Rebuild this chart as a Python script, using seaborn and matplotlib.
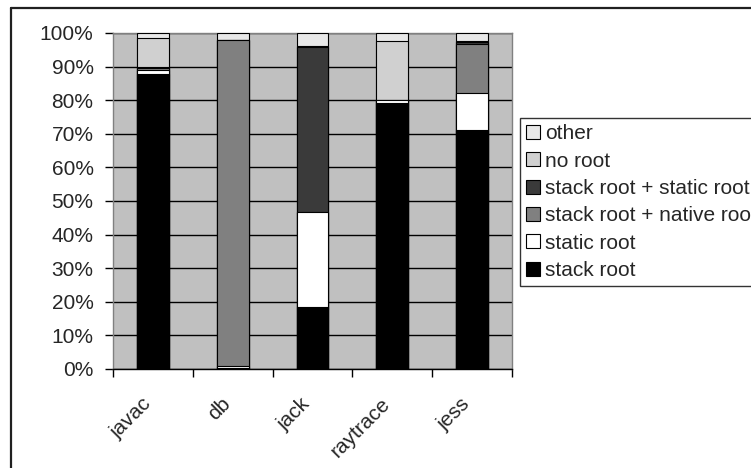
import numpy as np
import pandas as pd
import matplotlib
matplotlib.use("Agg")
import matplotlib.pyplot as plt
import matplotlib.transforms as mtransforms
from matplotlib.lines import Line2D
from matplotlib.patches import Patch
import seaborn as sns

# values (percent of objects)
benchmarks = ["javac", "db", "jack", "raytrace", "jess"]
stack_root = [87.8, 0.3, 18.5, 79.2, 71.1]
static_root = [1.3, 0.6, 28.3, 0.9, 11.1]
stack_native = [0.4, 97.1, 0.0, 0.0, 14.5]
stack_static = [0.3, 0.0, 49.0, 0.0, 0.6]
no_root = [8.8, 0.0, 0.4, 17.5, 0.3]
other = [1.4, 2.0, 3.8, 2.4, 2.4]

series_names = ["stack root", "static root", "stack root + native root",
                "stack root + static root", "no root", "other"]
series_colors = ["#000000", "#ffffff", "#808080", "#3a3a3a", "#d0d0d0", "#e8e8e8"]

df = pd.DataFrame(
    [stack_root, static_root, stack_native, stack_static, no_root, other],
    index=series_names, columns=benchmarks,
)
cum = df.cumsum(axis=0)

sns.set_style("white")
plt.rcParams["font.family"] = ["Liberation Sans", "DejaVu Sans"]

fig = plt.figure(figsize=(7.51, 4.68), dpi=100)
ax = fig.add_axes([113 / 751, 1 - 369 / 468, (512 - 113) / 751, (369 - 33) / 468])
ax.set_facecolor("#c0c0c0")

# draw cumulative layers from the top series down so each one shows its own slice
for name, color in reversed(list(zip(series_names, series_colors))):
    layer = pd.DataFrame({"bench": benchmarks, "value": cum.loc[name].values})
    sns.barplot(data=layer, x="bench", y="value", color=color, width=0.4,
                edgecolor="black", linewidth=0.8, saturation=1, ax=ax, zorder=3)

ax.set_xlim(-0.5, len(benchmarks) - 0.5)
ax.set_ylim(0, 100)
ax.set_yticks(np.arange(0, 101, 10))
ax.set_yticklabels([f"{v}%" for v in range(0, 101, 10)])
ax.yaxis.grid(True, color="black", linewidth=1)
ax.set_axisbelow(True)
ax.set_xlabel("")
ax.set_ylabel("")

ax.set_xticks(np.arange(-0.5, len(benchmarks)), minor=True)
ax.tick_params(axis="x", which="major", length=0, pad=23, labelsize=15)
ax.tick_params(axis="x", which="minor", length=6, width=1, color="black", direction="out", bottom=True)
ax.tick_params(axis="y", length=6, width=1, color="black", direction="out", left=True, pad=8, labelsize=15)
shift = mtransforms.ScaledTranslation(-5 / 100, 0, fig.dpi_scale_trans)
for lbl in ax.get_xticklabels():
    lbl.set_rotation(45)
    lbl.set_ha("right")
    lbl.set_va("center")
    lbl.set_rotation_mode("anchor")
    lbl.set_transform(lbl.get_transform() + shift)

for side in ["top", "right", "left"]:
    ax.spines[side].set_color("#808080")
    ax.spines[side].set_linewidth(1)
ax.spines["bottom"].set_color("black")
ax.spines["bottom"].set_linewidth(1)

handles = [Patch(facecolor=c, edgecolor="black", linewidth=0.8, label=n)
           for n, c in zip(series_names, series_colors)][::-1]
leg = fig.legend(handles=handles, loc="upper left",
                 bbox_to_anchor=(520 / 751, 1 - 118 / 468), bbox_transform=fig.transFigure,
                 fontsize=15, frameon=True, fancybox=False, borderaxespad=0,
                 handlelength=0.65, handleheight=0.65, handletextpad=0.25,
                 labelspacing=0.4, borderpad=0.3)
leg.get_frame().set_edgecolor("black")
leg.get_frame().set_linewidth(1)

# outer chart frame (only top and left edges fall inside the image)
fig.add_artist(Line2D([10.5 / 751, 10.5 / 751], [0, 1 - 7.5 / 468], color="#202020", linewidth=1.6))
fig.add_artist(Line2D([10.5 / 751, 1], [1 - 7.5 / 468, 1 - 7.5 / 468], color="#202020", linewidth=1.6))

fig.savefig("out.png", dpi=100)
